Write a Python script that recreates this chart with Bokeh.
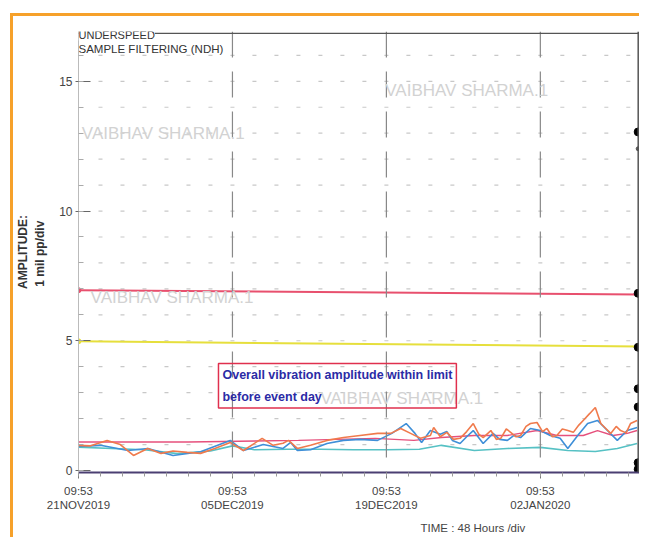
import numpy as np
from bokeh.plotting import figure
from bokeh.models import Range1d, FixedTicker, Label, Span, Title
from bokeh.embed import file_html
from bokeh.resources import INLINE

# ---- data (days since 21NOV2019 09:53, amplitude mil pp) ----
orange_days = [0, 1.1, 2.6, 3.8, 5.0, 6.3, 7.5, 8.6, 9.9, 11.1, 12.4, 13.8, 15.0, 16.7, 17.7,
               18.6, 19.1, 19.9, 21.1, 22.6, 24.1, 25.6, 27.2, 28.4, 29.3, 30.2, 31.1, 32.0, 32.3, 32.9,
               33.5, 34.1, 34.7, 35.3, 35.9, 36.4, 36.8, 37.5, 38.0, 38.4, 38.9, 39.3, 39.8, 40.2, 40.7,
               41.1, 41.7, 42.2, 42.6, 43.1, 43.5, 44.0, 44.5, 45.0, 45.5, 45.9, 46.5, 47.0, 47.5, 48.0,
               48.4, 48.9, 49.3, 49.8, 50.2, 50.8]
orange_vals = [0.97, 0.95, 1.16, 1.0, 0.58, 0.85, 0.66, 0.75, 0.7, 0.66, 0.85, 1.08, 0.77, 1.24, 0.97,
               1.05, 1.16, 0.85, 0.97, 1.16, 1.27, 1.35, 1.43, 1.43, 1.62, 1.43, 1.24, 1.35, 1.66, 1.3,
               1.47, 1.2, 1.24, 1.5, 1.81, 1.4, 1.27, 1.54, 1.2, 1.24, 1.6, 1.47, 1.3, 1.35, 1.7,
               1.81, 1.85, 1.5, 1.62, 1.3, 1.35, 1.6, 1.54, 1.47, 1.75, 1.93, 2.2, 2.43, 1.81, 1.6,
               1.43, 1.7, 1.54, 1.45, 1.81, 1.93]

blue_days = [0, 2.0, 4.5, 6.3, 8.6, 11.1, 13.8, 15.0, 16.8, 18.6, 19.3, 19.9, 21.1, 22.6, 24.1,
             25.6, 27.2, 28.5, 29.8, 30.6, 31.2, 32.0, 32.9, 33.5, 34.0, 34.7, 35.3, 35.9, 36.8, 37.7,
             38.3, 39.0, 39.6, 40.2, 41.1, 42.0, 42.9, 43.8, 44.5, 45.4, 46.3, 47.2, 48.1, 49.0, 49.9, 50.8]
blue_vals = [0.93, 0.97, 0.77, 0.85, 0.58, 0.72, 1.16, 0.77, 1.0, 0.85, 1.08, 0.77, 0.8, 1.04, 1.16,
             1.2, 1.16, 1.43, 1.81, 1.43, 1.08, 1.54, 1.4, 1.5, 1.16, 1.04, 1.3, 1.54, 1.04, 1.43,
             1.2, 1.16, 1.35, 1.27, 1.62, 1.54, 1.35, 1.24, 0.85, 1.35, 1.81, 1.93, 1.54, 1.16, 1.54, 1.66]

teal_days = [0, 3, 6, 9, 12, 14, 16, 19, 22, 25, 28, 31, 33, 36, 39, 42, 44.5, 47, 49, 50.8]
teal_vals = [0.9, 0.85, 0.8, 0.65, 0.75, 0.95, 0.8, 0.82, 0.82, 0.8, 0.8, 0.82, 0.97, 0.77, 0.85,
             0.89, 0.77, 0.73, 0.85, 1.04]

pink_days = [0, 10, 20, 27, 30.5, 33, 36, 39, 41.7, 43.5, 45.9, 47.2, 48.6, 49.9, 50.8]
pink_vals = [1.1, 1.1, 1.16, 1.24, 1.16, 1.27, 1.35, 1.35, 1.54, 1.35, 1.35, 1.54, 1.35, 1.43, 1.54]

limit_days = [0, 51.2]
alarm_vals = [6.95, 6.78]
alert_vals = [4.98, 4.78]

cursor_day = 50.9
cursor_vals = [13.05, 6.83, 4.75, 3.15, 2.45, 0.3, 0.05]
cursor_small = [12.4]

x_major = [0, 14, 28, 42]
x_labels = ["09:53\n21NOV2019", "09:53\n05DEC2019", "09:53\n19DEC2019", "09:53\n02JAN2020"]
x_minor = list(range(0, 52, 2))
y_major = [0, 5, 10, 15]
y_minor = list(range(0, 17))

FONT = "Liberation Sans"

p = figure(width=629, height=524, output_backend="svg", toolbar_location=None,
           x_range=Range1d(0, 51.2), y_range=Range1d(-0.077, 16.92),
           min_border_left=65, min_border_right=1, min_border_top=15, min_border_bottom=68)
p.styles = {"border-top": "3px solid #f6a12a", "border-left": "3px solid #f6a12a",
            "margin-left": "10px", "margin-top": "13px"}
p.outline_line_color = None
p.background_fill_color = "white"
p.border_fill_color = "white"
p.xgrid.grid_line_color = None
p.ygrid.grid_line_color = None

# x axis
p.xaxis.ticker = FixedTicker(ticks=x_major, minor_ticks=x_minor)
p.xaxis.major_label_overrides = {t: l for t, l in zip(x_major, x_labels)}
p.xaxis.axis_line_color = "#4b3f72"
p.xaxis.axis_line_width = 2
p.xaxis.major_tick_out = 6
p.xaxis.major_tick_in = 0
p.xaxis.minor_tick_out = 4
p.xaxis.minor_tick_in = 0
p.xaxis.major_tick_line_color = "#777777"
p.xaxis.minor_tick_line_color = "#999999"
p.xaxis.major_label_text_font = FONT
p.xaxis.major_label_text_font_size = "11.5px"
p.xaxis.major_label_text_color = "#444444"
p.xaxis.major_label_standoff = 6

# y axis
p.yaxis.ticker = FixedTicker(ticks=y_major, minor_ticks=y_minor)
p.yaxis.axis_line_color = "#bbbbbb"
p.yaxis.major_tick_in = 12
p.yaxis.major_tick_out = 3
p.yaxis.minor_tick_in = 5
p.yaxis.minor_tick_out = 0
p.yaxis.major_tick_line_color = "#666666"
p.yaxis.minor_tick_line_color = "#aaaaaa"
p.yaxis.major_label_text_font = FONT
p.yaxis.major_label_text_font_size = "12px"
p.yaxis.major_label_text_color = "#444444"
p.yaxis.major_label_standoff = 3
p.yaxis.axis_label = "AMPLITUDE:\n1 mil  pp/div"
p.yaxis.axis_label_text_font = FONT
p.yaxis.axis_label_text_font_size = "12px"
p.yaxis.axis_label_text_font_style = "bold"
p.yaxis.axis_label_text_color = "#333333"
p.yaxis.axis_label_standoff = 9

# x axis title (placed off-centre, as in the original)
p.add_layout(Title(text="TIME : 48 Hours /div", align="left", offset=342, text_font=FONT,
                   text_font_size="11.5px", text_font_style="normal", text_color="#444444",
                   standoff=13), "below")

# dotted minor grid marks at intersections
gx, gy = np.meshgrid(x_minor[1:], y_minor[1:])
p.scatter(gx.ravel(), gy.ravel(), marker="dash", size=4, line_color="#c8c8c8", line_width=1.2)

# major vertical dashed grid lines
for t in x_major[1:]:
    p.add_layout(Span(location=t, dimension="height", line_color="#888888",
                      line_width=1.2, line_dash="26 14"))

# top line of the plot
p.add_layout(Span(location=16.85, dimension="width", line_color="#555555", line_width=1.3))

# watermarks
for (wx, wy) in [(27.9, 14.64), (0.3, 13.0), (1.1, 6.67), (22.0, 2.77)]:
    p.add_layout(Label(x=wx, y=wy, text="VAIBHAV SHARMA.1", text_font=FONT,
                       text_font_size="17px", text_color="#d2d2d2", text_baseline="middle"))

# alarm / alert lines
p.line(limit_days, alarm_vals, line_color="#e8506e", line_width=2)
p.line(limit_days, alert_vals, line_color="#e6df3c", line_width=2)
p.scatter([limit_days[0]], [alarm_vals[0]], size=5, color="#e8506e")
p.scatter([limit_days[0]], [alert_vals[0]], size=5, color="#e6df3c")

# trend series
p.line(teal_days, teal_vals, line_color="#56c1c4", line_width=1.6)
p.line(pink_days, pink_vals, line_color="#e6507c", line_width=1.4)
p.line(blue_days, blue_vals, line_color="#3f8fd8", line_width=1.6)
p.line(orange_days, orange_vals, line_color="#f07a4c", line_width=1.6)

# cursor
p.add_layout(Span(location=cursor_day, dimension="height", line_color="#555555", line_width=1.5))
p.scatter([cursor_day] * len(cursor_vals), cursor_vals, size=8, color="black")
p.scatter([cursor_day] * len(cursor_small), cursor_small, size=4, color="#555555")

# header text
p.add_layout(Label(x=0, y=16.8, text="UNDERSPEED", text_font=FONT, text_font_size="11px",
                   text_color="#333333", text_baseline="middle", background_fill_color="white",
                   x_offset=0))
p.add_layout(Label(x=0, y=16.25, text="SAMPLE FILTERING (NDH)", text_font=FONT,
                   text_font_size="11.5px", text_color="#333333", text_baseline="middle",
                   x_offset=0))

# comment box
p.add_layout(Label(x=12.73, y=4.12, text="Overall vibration amplitude within limit\nbefore event day",
                   text_font=FONT, text_font_size="12.5px", text_font_style="bold",
                   text_color="#2b2ba6", text_align="left", text_baseline="top",
                   text_line_height=1.6, border_line_color="#e0304e", border_line_width=1.5,
                   padding=4))

open("out.html", "w").write(file_html(p, INLINE))
